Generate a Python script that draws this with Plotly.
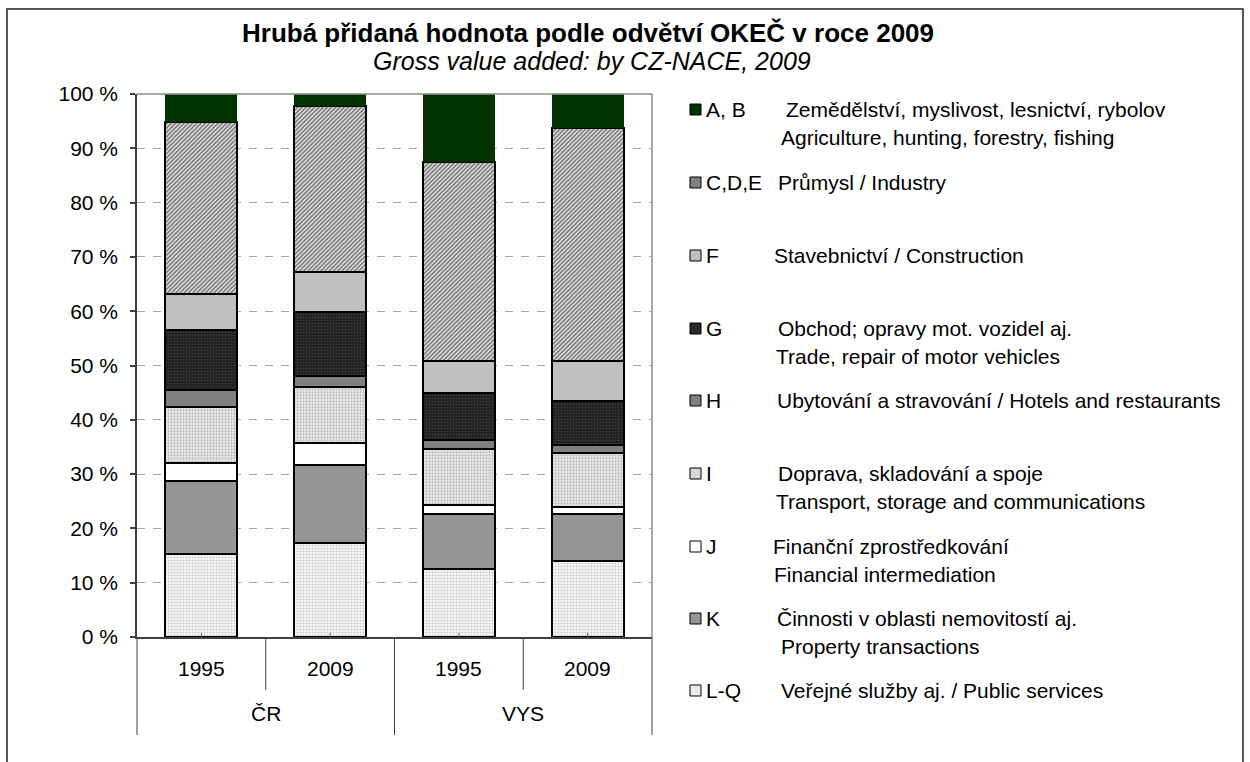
import plotly.graph_objects as go

# ---------------- data ----------------
regions = ["ČR", "ČR", "VYS", "VYS"]
years = ["1995", "2009", "1995", "2009"]

# sectors listed bottom -> top of the stack
sector_codes = ["L-Q", "K", "J", "I", "H", "G", "F", "C,D,E", "A, B"]
sector_cz = [
    "Veřejné služby aj. / Public services",
    "Činnosti v oblasti nemovitostí aj.",
    "Finanční zprostředkování",
    "Doprava, skladování a spoje",
    "Ubytování a stravování / Hotels and restaurants",
    "Obchod; opravy mot. vozidel aj.",
    "Stavebnictví / Construction",
    "Průmysl / Industry",
    "Zemědělství, myslivost, lesnictví, rybolov",
]
sector_en = [
    "",
    "Property transactions",
    "Financial intermediation",
    "Transport, storage and communications",
    "",
    "Trade, repair of motor vehicles",
    "",
    "",
    "Agriculture, hunting, forestry, fishing",
]

val_LQ = [15.3, 17.4, 12.5, 14.0]
val_K = [13.5, 14.3, 10.1, 8.6]
val_J = [3.3, 4.1, 1.8, 1.4]
val_I = [10.3, 10.3, 10.2, 9.9]
val_H = [3.0, 1.9, 1.6, 1.5]
val_G = [11.2, 11.8, 8.8, 8.1]
val_F = [6.6, 7.4, 5.9, 7.4]
val_CDE = [31.7, 30.6, 36.6, 42.9]
val_AB = [5.1, 2.2, 12.5, 6.2]
series_values = [val_LQ, val_K, val_J, val_I, val_H, val_G, val_F, val_CDE, val_AB]

title_cz = "Hrubá přidaná hodnota podle odvětví OKEČ v roce 2009"
title_en = "Gross value added: by CZ-NACE, 2009"

# ---------------- styles ----------------
styles = [
    dict(color="#f4f4f4", pattern=dict(shape=".", fgcolor="#9a9a9a", bgcolor="#f7f7f7", size=3, solidity=0.35)),
    dict(color="#969696", pattern=None),
    dict(color="#ffffff", pattern=None),
    dict(color="#e0e0e0", pattern=dict(shape=".", fgcolor="#8a8a8a", bgcolor="#eeeeee", size=3, solidity=0.45)),
    dict(color="#808080", pattern=None),
    dict(color="#262626", pattern=dict(shape=".", fgcolor="#5a5a5a", bgcolor="#1c1c1c", size=3, solidity=0.4)),
    dict(color="#c0c0c0", pattern=None),
    dict(color="#909090", pattern=dict(shape="/", fgcolor="#000000", bgcolor="#f4f4f4", size=3, solidity=0.6)),
    dict(color="#003300", pattern=None),
]
swatch_colors = ["#ececec", "#969696", "#ffffff", "#d6d6d6", "#808080",
                 "#2a2a2a", "#c0c0c0", "#808080", "#003300"]

FONT = "Arial, 'Liberation Sans', sans-serif"
FS = 21

fig = go.Figure()
for i, vals in enumerate(series_values):
    st = styles[i]
    marker = dict(color=st["color"],
                  line=dict(color="#000000" if i != 8 else "#003300", width=2 if i != 8 else 0))
    if st["pattern"] is not None:
        marker["pattern"] = st["pattern"]
    fig.add_trace(go.Bar(
        x=[regions, years], y=vals, name=sector_codes[i],
        marker=marker, showlegend=False,
    ))

# pixel -> paper helpers (plot area: x 137..652, y 94..637)
L, R, T, B = 137, 652, 94, 637
def px(x):
    return (x - L) / (R - L)
def py(y):
    return (B - y) / (B - T)

shapes = []
annotations = []

# outer frame
shapes.append(dict(type="rect", xref="paper", yref="paper",
                   x0=px(7), x1=px(1243), y0=py(790), y1=py(9),
                   line=dict(color="#202020", width=1.5), fillcolor="rgba(0,0,0,0)", layer="below"))
# top and right plot border
shapes.append(dict(type="line", xref="paper", yref="paper", x0=0, x1=1, y0=1, y1=1,
                   line=dict(color="#8c8c8c", width=1.5)))
shapes.append(dict(type="line", xref="paper", yref="paper", x0=1, x1=1, y0=0, y1=1,
                   line=dict(color="#8c8c8c", width=1.5)))
# category dividers below the axis
n = len(years)
for j in range(n + 1):
    xx = j / n
    outer = (j % 2 == 0)
    shapes.append(dict(type="line", xref="paper", yref="paper", x0=xx, x1=xx,
                       y0=py(735 if outer else 690), y1=0,
                       line=dict(color="#404040", width=1)))
# small tick marks at the bar centres
for j in range(n):
    xx = (j + 0.5) / n
    shapes.append(dict(type="line", xref="paper", yref="paper", x0=xx, x1=xx,
                       y0=0, y1=py(633), line=dict(color="#606060", width=1)))
# category labels
for j, yr in enumerate(years):
    annotations.append(dict(text=yr, xref="paper", yref="paper", x=(j + 0.5) / n, y=py(668),
                            showarrow=False, xanchor="center", yanchor="middle",
                            font=dict(family=FONT, size=FS, color="#000000")))
for g, reg in enumerate(["ČR", "VYS"]):
    annotations.append(dict(text=reg, xref="paper", yref="paper", x=(2 * g + 1) / n, y=py(713),
                            showarrow=False, xanchor="center", yanchor="middle",
                            font=dict(family=FONT, size=FS, color="#000000")))

# titles
annotations.append(dict(text="<b>" + title_cz + "</b>", xref="paper", yref="paper",
                        x=px(588), y=py(33), showarrow=False, xanchor="center", yanchor="middle",
                        font=dict(family=FONT, size=26, color="#000000")))
annotations.append(dict(text="<i>" + title_en + "</i>", xref="paper", yref="paper",
                        x=px(592), y=py(61), showarrow=False, xanchor="center", yanchor="middle",
                        font=dict(family=FONT, size=25, color="#000000")))

# legend (top -> bottom)
leg_y = [109, 182, 255, 328, 400, 473, 546, 618, 690]
desc_x = [784, 776, 772, 776, 775, 776, 771, 775, 779]
en_x = [779, 0, 0, 774, 0, 774, 772, 779, 0]
order = list(range(8, -1, -1))
for k, i in enumerate(order):
    yc = leg_y[k]
    shapes.append(dict(type="rect", xref="paper", yref="paper",
                       x0=px(690), x1=px(701), y0=py(yc + 6), y1=py(yc - 5),
                       fillcolor=swatch_colors[i], line=dict(color="#000000", width=1)))
    annotations.append(dict(text=sector_codes[i], xref="paper", yref="paper",
                            x=px(704), y=py(yc), showarrow=False, xanchor="left", yanchor="middle",
                            font=dict(family=FONT, size=FS, color="#000000")))
    annotations.append(dict(text=sector_cz[i], xref="paper", yref="paper",
                            x=px(desc_x[k]), y=py(yc), showarrow=False, xanchor="left", yanchor="middle",
                            font=dict(family=FONT, size=FS, color="#000000")))
    if sector_en[i]:
        annotations.append(dict(text=sector_en[i], xref="paper", yref="paper",
                                x=px(en_x[k]), y=py(yc + 28), showarrow=False, xanchor="left",
                                yanchor="middle",
                                font=dict(family=FONT, size=FS, color="#000000")))

fig.update_layout(
    width=1250, height=762,
    margin=dict(l=L, r=1250 - R, t=T, b=762 - B, pad=0),
    barmode="stack", bargap=0.44,
    plot_bgcolor="#ffffff", paper_bgcolor="#ffffff",
    font=dict(family=FONT, size=FS, color="#000000"),
    shapes=shapes, annotations=annotations,
    showlegend=False,
)
fig.update_xaxes(
    type="multicategory", showline=True, linecolor="#404040", linewidth=1.5,
    showdividers=False, showticklabels=False,
    showgrid=False, ticks="",
)
fig.update_yaxes(
    range=[0, 100], dtick=10, ticksuffix=" %", showline=True, linecolor="#404040", linewidth=1.5,
    ticks="outside", ticklen=5, tickcolor="#404040", tickwidth=1.5, ticklabelstandoff=8,
    showgrid=True, gridcolor="#a6a6a6", gridwidth=1, griddash="8px,8px",
    tickfont=dict(family=FONT, size=FS, color="#000000"), zeroline=False,
)

fig.write_html("out.html", config={"displayModeBar": False},
               post_script="document.body.style.margin='0';document.body.style.overflow='hidden';")
